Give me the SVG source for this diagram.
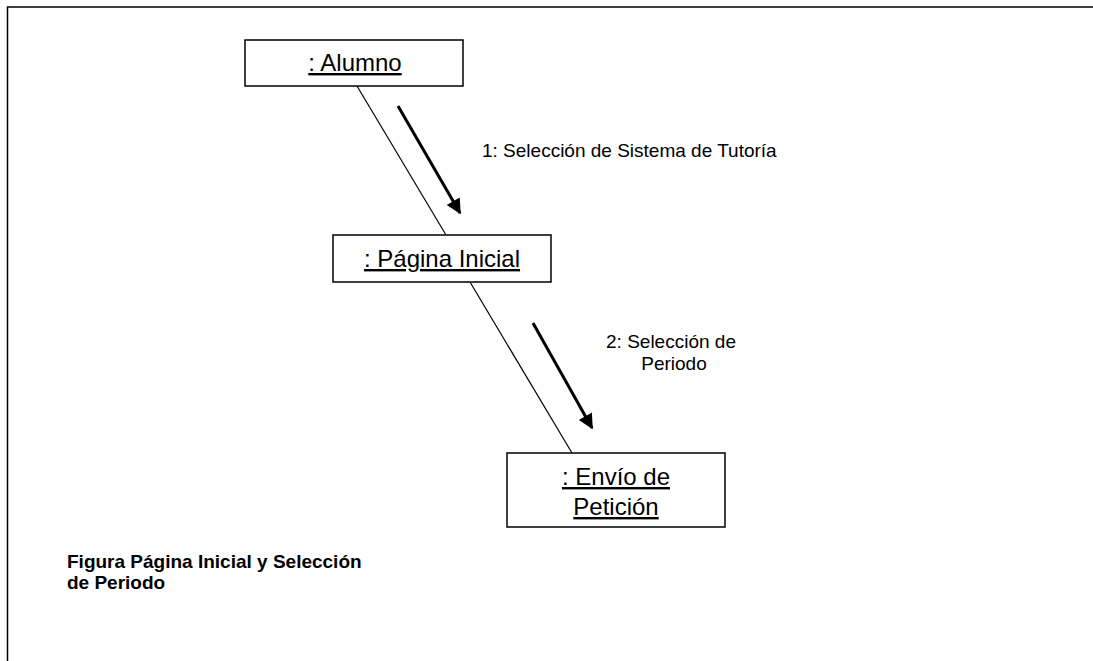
<svg xmlns="http://www.w3.org/2000/svg" width="1093" height="661" viewBox="0 0 1093 661">
<style>
.box{fill:#fff;stroke:#000;stroke-width:1.5}
.nt{font-family:"Liberation Sans",Arial,sans-serif;font-size:24px;text-anchor:middle;text-decoration:underline;fill:#000}
.lbl{font-family:"Liberation Sans",Arial,sans-serif;font-size:19px;fill:#000}
.cap{font-family:"Liberation Sans",Arial,sans-serif;font-size:19px;font-weight:bold;fill:#000}
.link{stroke:#000;stroke-width:1.2;fill:none}
.msg{stroke:#000;stroke-width:3;fill:none;marker-end:url(#ah)}
</style>
<defs>
<marker id="ah" viewBox="0 0 10 10" refX="9" refY="5" markerWidth="6" markerHeight="5" orient="auto" markerUnits="strokeWidth">
<path d="M0,0 L10,5 L0,10 z" fill="#000"/>
</marker>
</defs>
<rect width="1093" height="661" fill="#fff"/>
<path d="M7.5,661 V7 H1093" fill="none" stroke="#000" stroke-width="1.5"/>
<g id="connectors">
<line class="link" x1="357" y1="86" x2="446" y2="235"/>
<line class="link" x1="470" y1="282" x2="572" y2="453"/>
<line class="msg" x1="398" y1="106" x2="460" y2="213"/>
<line class="msg" x1="533" y1="323" x2="592" y2="428"/>
</g>
<g id="alumno">
<rect class="box" x="245" y="40" width="218" height="46"/>
<text class="nt" x="355" y="71">: Alumno</text>
</g>
<g id="pagina">
<rect class="box" x="333" y="235" width="218" height="47"/>
<text class="nt" x="442" y="267">: Página Inicial</text>
</g>
<g id="envio">
<rect class="box" x="507" y="453" width="218" height="74"/>
<text class="nt" x="616" y="485">: Envío de</text>
<text class="nt" x="616" y="515">Petición</text>
</g>
<g id="labels">
<text class="lbl" x="482" y="157">1: Selección de Sistema de Tutoría</text>
<text class="lbl" x="671" y="348" text-anchor="middle">2: Selección de</text>
<text class="lbl" x="674" y="370" text-anchor="middle">Periodo</text>
</g>
<g id="caption">
<text class="cap" x="67" y="568">Figura Página Inicial y Selección</text>
<text class="cap" x="67" y="589">de Periodo</text>
</g>
</svg>
